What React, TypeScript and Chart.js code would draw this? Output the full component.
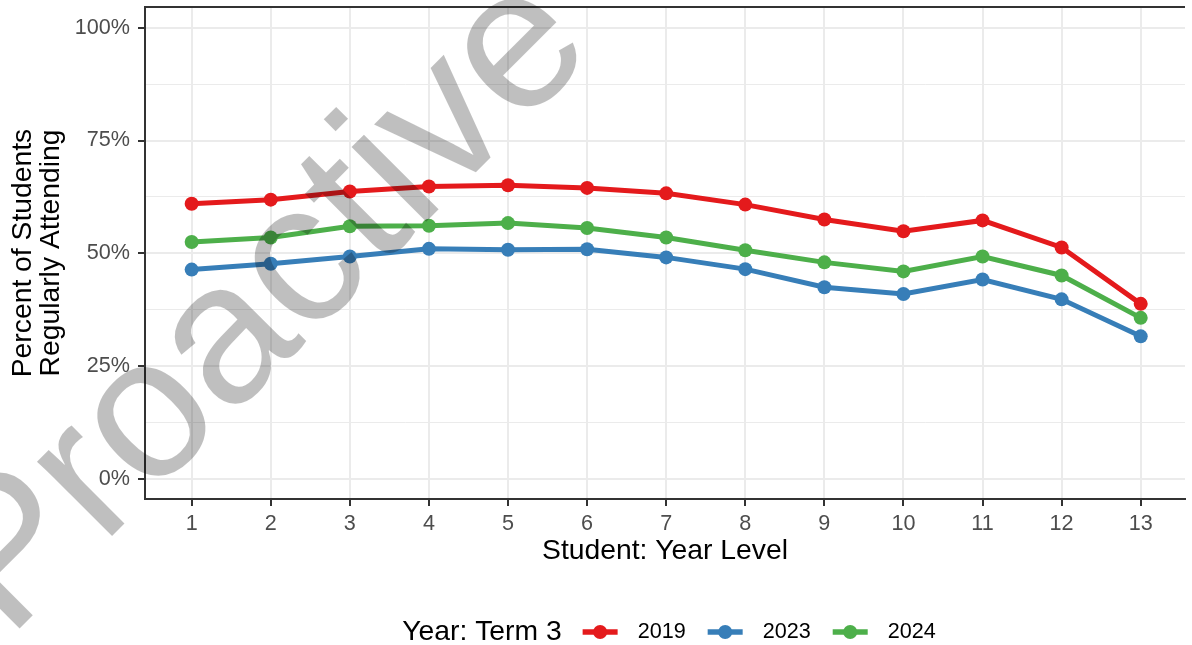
import React, { useEffect, useRef } from "react";
import { Chart, registerables } from "chart.js";

Chart.register(...registerables);

// ---- data ----
const yearLevels = [1, 2, 3, 4, 5, 6, 7, 8, 9, 10, 11, 12, 13];
const seriesNames = ["2019", "2023", "2024"];
const values2019 = [61.0, 61.9, 63.7, 64.8, 65.1, 64.5, 63.3, 60.8, 57.5, 54.9, 57.3, 51.3, 38.8];
const values2023 = [46.4, 47.7, 49.3, 51.0, 50.8, 50.9, 49.1, 46.5, 42.5, 41.0, 44.2, 39.8, 31.6];
const values2024 = [52.5, 53.5, 56.0, 56.1, 56.7, 55.6, 53.5, 50.7, 48.0, 46.0, 49.3, 45.1, 35.7];
const seriesColors = ["#E41A1C", "#377EB8", "#4DAF4A"];
const yTickValues = [0, 12.5, 25, 37.5, 50, 62.5, 75, 87.5, 100];
const yMajorTicks = [0, 25, 50, 75, 100];
const legendTitle = "Year: Term 3";
const xTitle = "Student: Year Level";
const yTitle = ["Percent of Students", "Regularly Attending"];
const watermarkText = "Proactive Schools";

const FONT = "'Liberation Sans', Arial, Helvetica, sans-serif";
const TITLE_SIZE = 28.3;
const TEXT_SIZE = 21.6;

const overlayPlugin = {
  id: "overlay",
  afterDraw(chart: any) {
    const ctx = chart.ctx;
    const area = chart.chartArea;
    ctx.save();
    // top panel border
    ctx.strokeStyle = "#333333";
    ctx.lineWidth = 2;
    ctx.beginPath();
    ctx.moveTo(area.left, area.top);
    ctx.lineTo(area.right, area.top);
    ctx.stroke();

    // legend
    const cy = 632;
    ctx.textBaseline = "middle";
    ctx.textAlign = "left";
    ctx.font = `${TITLE_SIZE}px ${FONT}`;
    const titleW = ctx.measureText(legendTitle).width;
    ctx.font = `${TEXT_SIZE}px ${FONT}`;
    const keyW = 35;
    const gapTitle = 21;
    const gapKeyLabel = 20;
    const gapItems = 22;
    const labelWs = seriesNames.map((n) => ctx.measureText(n).width);
    let total = titleW + gapTitle;
    labelWs.forEach((w, i) => {
      total += keyW + gapKeyLabel + w + (i < labelWs.length - 1 ? gapItems : 0);
    });
    let x = 669 - total / 2;
    ctx.fillStyle = "#000000";
    ctx.font = `${TITLE_SIZE}px ${FONT}`;
    ctx.fillText(legendTitle, x, cy);
    x += titleW + gapTitle;
    chart.data.datasets.forEach((ds: any, i: number) => {
      ctx.strokeStyle = ds.borderColor;
      ctx.lineWidth = 5.5;
      ctx.beginPath();
      ctx.moveTo(x, cy);
      ctx.lineTo(x + keyW, cy);
      ctx.stroke();
      ctx.fillStyle = ds.borderColor;
      ctx.beginPath();
      ctx.arc(x + keyW / 2, cy, 7, 0, Math.PI * 2);
      ctx.fill();
      x += keyW + gapKeyLabel;
      ctx.fillStyle = "#000000";
      ctx.font = `${TEXT_SIZE}px ${FONT}`;
      ctx.fillText(ds.label, x, cy);
      x += labelWs[i] + gapItems;
    });

    // watermark
    ctx.translate(8, 640);
    ctx.rotate((-45 * Math.PI) / 180);
    ctx.font = `200px ${FONT}`;
    ctx.fillStyle = "rgba(0,0,0,0.25)";
    ctx.textBaseline = "alphabetic";
    ctx.textAlign = "left";
    ctx.fillText(watermarkText, 0, 0);
    ctx.restore();
  },
};

export default function App() {
  const canvasRef = useRef<HTMLCanvasElement | null>(null);

  useEffect(() => {
    document.body.style.margin = "0";
    const canvas = canvasRef.current;
    if (!canvas) return;
    const allValues = [values2019, values2023, values2024];
    const chart = new Chart(canvas, {
      type: "line",
      data: {
        datasets: seriesNames.map((name, i) => ({
          label: name,
          data: yearLevels.map((x, j) => ({ x, y: allValues[i][j] })),
          borderColor: seriesColors[i],
          backgroundColor: seriesColors[i],
          pointBackgroundColor: seriesColors[i],
          pointBorderWidth: 0,
          borderWidth: 5,
          pointRadius: 7,
          tension: 0,
          order: 3 - i,
        })),
      },
      options: {
        animation: false,
        responsive: false,
        devicePixelRatio: 1,
        layout: { padding: { left: 0, right: 0, top: 6, bottom: 76 } },
        plugins: {
          legend: { display: false },
          tooltip: { enabled: false },
        },
        scales: {
          x: {
            type: "linear",
            min: 0.41,
            max: 13.56,
            afterBuildTicks: (s: any) => {
              s.ticks = yearLevels.map((v) => ({ value: v }));
            },
            afterFit: (s: any) => {
              s.height = 70;
              s.paddingLeft = 0;
              s.paddingRight = 0;
            },
            ticks: {
              autoSkip: false,
              maxRotation: 0,
              padding: 5,
              color: "#4D4D4D",
              font: { family: FONT, size: TEXT_SIZE },
              callback: (v: any) => String(v),
            },
            grid: {
              color: "#EBEBEB",
              lineWidth: 2,
              tickColor: "#333333",
              tickLength: 7,
              tickWidth: 2,
            },
            border: { color: "#333333", width: 2 },
            title: {
              display: true,
              text: xTitle,
              color: "#000000",
              font: { family: FONT, size: TITLE_SIZE },
              padding: { top: 0, bottom: 1 },
            },
          },
          y: {
            type: "linear",
            min: -4.45,
            max: 104.6,
            afterBuildTicks: (s: any) => {
              s.ticks = yTickValues.map((v) => ({ value: v }));
            },
            afterFit: (s: any) => {
              s.width = 145;
              s.paddingTop = 0;
              s.paddingBottom = 0;
            },
            ticks: {
              autoSkip: false,
              padding: 8,
              color: "#4D4D4D",
              font: { family: FONT, size: TEXT_SIZE },
              callback: (v: any) => (yMajorTicks.includes(Number(v)) ? `${v}%` : ""),
            },
            grid: {
              color: "#EBEBEB",
              lineWidth: (c: any) => (c.tick && yMajorTicks.includes(c.tick.value) ? 2 : 1),
              tickColor: (c: any) =>
                c.tick && yMajorTicks.includes(c.tick.value) ? "#333333" : "rgba(0,0,0,0)",
              tickLength: 7,
              tickWidth: 2,
            },
            border: { color: "#333333", width: 2 },
            title: {
              display: true,
              text: yTitle,
              color: "#000000",
              font: { family: FONT, size: TITLE_SIZE, lineHeight: "28px" },
              padding: { top: 9, bottom: 0 },
            },
          },
        },
      },
      plugins: [overlayPlugin],
    } as any);
    return () => chart.destroy();
  }, []);

  return (
    <div style={{ width: 1192, height: 645, overflow: "hidden" }}>
      <canvas ref={canvasRef} width={1192} height={645} style={{ display: "block" }} />
    </div>
  );
}
